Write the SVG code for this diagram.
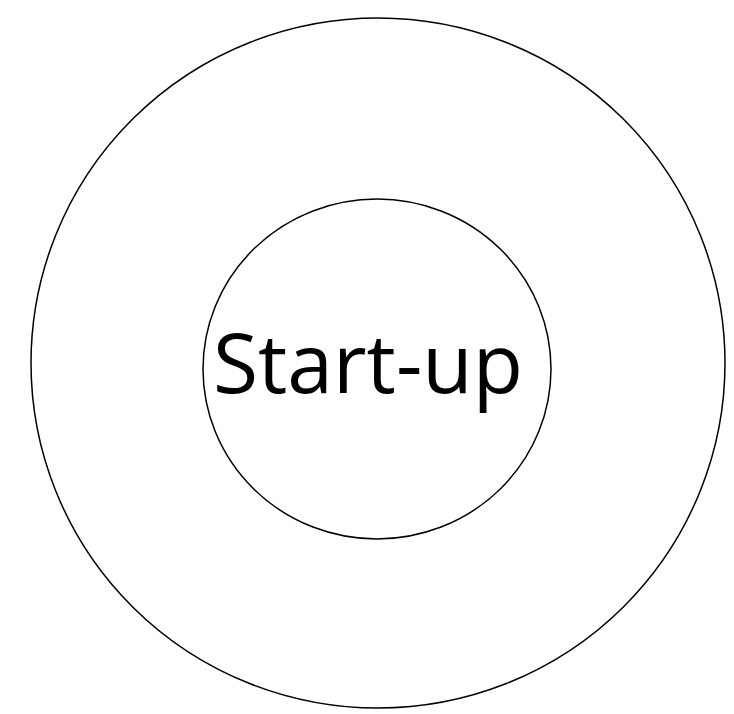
<svg xmlns="http://www.w3.org/2000/svg" width="734" height="714" viewBox="0 0 734 714">
<style>
.ring{fill:none;stroke:#000;stroke-width:1.5}
.lbl{font-family:"Open Sans","Liberation Sans",sans-serif;font-size:83px;fill:#000}
</style>
<rect width="734" height="714" fill="#fff"/>
<g id="outer"><ellipse class="ring" cx="378" cy="363" rx="347" ry="345"/></g>
<g id="inner"><ellipse class="ring" cx="377" cy="369" rx="174" ry="170"/>
<text class="lbl" x="213" y="393" textLength="310" lengthAdjust="spacingAndGlyphs">Start-up</text></g>
<g id="connectors"/>
</svg>
